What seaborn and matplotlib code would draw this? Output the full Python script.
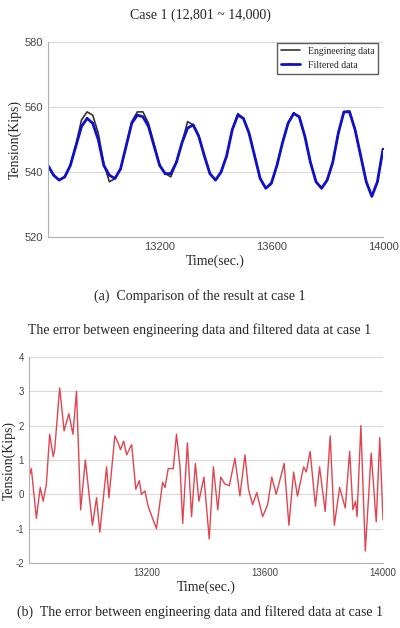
import matplotlib
matplotlib.use("Agg")
import matplotlib.pyplot as plt
import seaborn as sns
import pandas as pd
import numpy as np

t_top = list(range(12800, 14001, 20))
filtered = [542, 539, 537.5, 538.5, 542, 548, 554, 556.5, 555, 550, 542, 539, 538, 541, 548, 555, 557.5, 557,
            554, 548, 542, 539.5, 539.5, 543, 549, 553.5, 554.5, 551, 545, 539.5, 537.5, 540, 545, 553, 557.5,
            556.5, 552, 545, 538, 535, 536.5, 542, 549, 555, 558, 557, 551, 543, 537, 535, 537.5, 543, 552,
            558.5, 558.5, 553, 545, 537, 532.5, 537, 547]
engineering = [542, 539, 537.5, 538.5, 542, 548.5, 556, 558.5, 557.5, 552, 542.5, 537, 538, 541, 548, 555.5, 558.5,
               558.5, 555, 548.5, 542, 539.5, 538.5, 543, 549, 555.5, 554.5, 551, 545, 539.5, 537.5, 540, 545, 553,
               558, 556.5, 552, 545, 538, 535, 536.5, 542, 549, 555, 558, 557, 551, 543, 537, 535, 537.5, 543, 552,
               558.5, 558.8, 553, 545, 537, 532.5, 537, 547]

t_err = [12800, 12808, 12825, 12838, 12848, 12859, 12870, 12882, 12887, 12904, 12919, 12935, 12949, 12961, 12975,
         12991, 13015, 13029, 13040, 13063, 13071, 13091, 13102, 13110, 13121, 13131, 13148, 13162, 13174, 13181,
         13193, 13204, 13221, 13232, 13253, 13261, 13272, 13289, 13300, 13312, 13321, 13337, 13351, 13364, 13376,
         13393, 13411, 13425, 13440, 13450, 13464, 13479, 13498, 13515, 13532, 13544, 13558, 13572, 13592, 13609,
         13623, 13638, 13665, 13681, 13697, 13710, 13731, 13740, 13753, 13771, 13785, 13804, 13821, 13835, 13853,
         13872, 13887, 13898, 13907, 13912, 13925, 13940, 13960, 13977, 13989, 14000]
err = [0.5, 0.75, -0.7, 0.2, -0.2, 0.3, 1.75, 1.1, 1.3, 3.1, 1.85, 2.35, 1.75, 3.0, -0.45, 1.0, -0.9, -0.1, -1.1,
       0.8, -0.1, 1.7, 1.5, 1.3, 1.55, 1.15, 1.45, 0.15, 0.4, 0.0, 0.1, -0.35, -0.75, -1.0, 0.35, 0.2, 0.75, 0.75,
       1.75, 0.8, -0.85, 1.5, -0.65, 0.9, -0.2, 0.5, -1.3, 0.8, -0.45, 0.5, 0.3, 0.25, 1.05, -0.05, 1.15, 0.15,
       -0.3, 0.05, -0.65, -0.3, 0.5, 0.0, 0.9, -0.9, 0.65, -0.05, 0.8, 0.65, 1.25, -0.35, 0.8, -0.5, 1.7, -0.9,
       0.2, -0.4, 1.25, -0.45, -0.2, -0.65, 2.0, -1.65, 1.2, -0.8, 1.65, -0.75]

sns.set_style("white")
plt.rcParams['font.family'] = ['Liberation Serif', 'DejaVu Serif']
plt.rcParams['axes.unicode_minus'] = False

W, H = 400, 628
fig = plt.figure(figsize=(W/100, H/100), dpi=100)

def style(ax, lsize):
    for s in ['top', 'right']:
        ax.spines[s].set_visible(False)
    for s in ['left', 'bottom']:
        ax.spines[s].set_color('#b0b0b0')
    ax.yaxis.grid(True, color='#d9d9d9', lw=0.8)
    ax.tick_params(labelsize=lsize, colors='#444444', length=0)
    for lab in ax.get_xticklabels() + ax.get_yticklabels():
        lab.set_family('Liberation Sans')
    ax.set_axisbelow(True)

ax1 = fig.add_axes([48/W, 1-237/H, 335/W, 195/H])
sns.lineplot(x=t_top, y=engineering, ax=ax1, color='#333333', lw=1.2, label='Engineering data')
sns.lineplot(x=t_top, y=filtered, ax=ax1, color='#1010c8', lw=2.0, marker='s', markersize=1.8,
             markeredgewidth=0, label='Filtered data')
ax1.set_xlim(12800, 14000)
ax1.set_ylim(520, 580)
ax1.set_yticks([520, 540, 560, 580])
ax1.set_xticks([13200, 13600, 14000])
style(ax1, 8)
ax1.set_xlabel('Time(sec.)', fontsize=10, labelpad=2)
ax1.set_ylabel('Tension(Kips)', fontsize=10, labelpad=2)
leg = ax1.legend(loc='upper right', fontsize=7, frameon=True, fancybox=False, edgecolor='#333333',
                 bbox_to_anchor=(1.0, 1.02))
fig.text(0.5, 1-15/H, 'Case 1 (12,801 ~ 14,000)', ha='center', va='center', fontsize=10)
fig.text(0.5, 1-296/H, '(a)  Comparison of the result at case 1', ha='center', va='center', fontsize=10)

ax2 = fig.add_axes([29/W, 1-563/H, 354/W, 206/H])
sns.lineplot(x=t_err, y=err, ax=ax2, color='#e0454f', lw=1.0)
ax2.set_xlim(12800, 14000)
ax2.set_ylim(-2, 4)
ax2.set_yticks([-2, -1, 0, 1, 2, 3, 4])
ax2.set_xticks([13200, 13600, 14000])
style(ax2, 7)
ax2.set_xlabel('Time(sec.)', fontsize=10, labelpad=2)
ax2.set_ylabel('Tension(Kips)', fontsize=10, labelpad=0)
fig.text(0.5, 1-330/H, 'The error between engineering data and filtered data at case 1', ha='center',
         va='center', fontsize=10)
fig.text(0.5, 1-612/H, '(b)  The error between engineering data and filtered data at case 1', ha='center',
         va='center', fontsize=10)

fig.savefig('out.png', dpi=100)
